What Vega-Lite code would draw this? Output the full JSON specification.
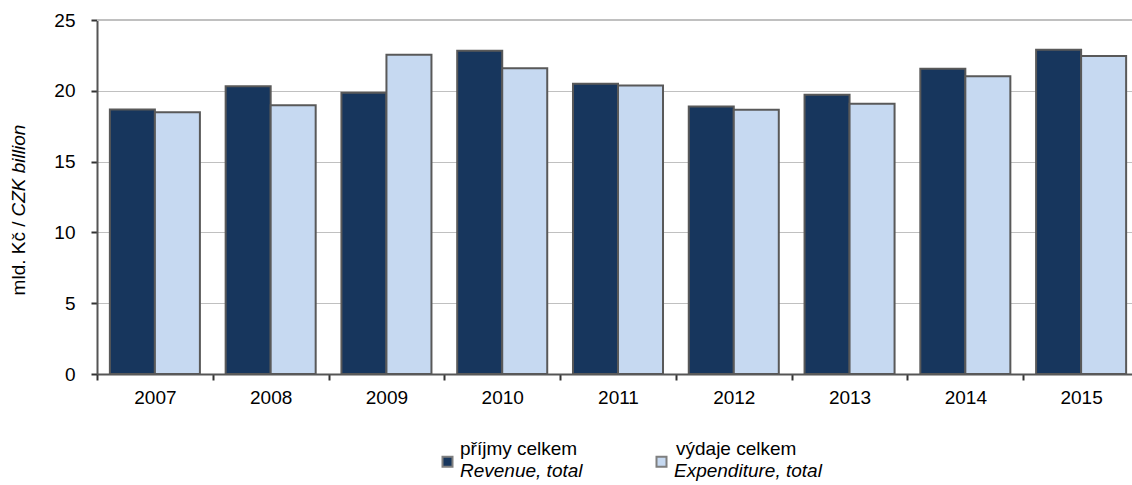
{
  "$schema": "https://vega.github.io/schema/vega-lite/v6.json",
  "width": 1035,
  "height": 354,
  "autosize": {"type": "none"},
  "padding": {"left": 97, "top": 20, "right": 0, "bottom": 111},
  "background": "white",
  "config": {
    "font": "Liberation Sans",
    "view": {"stroke": null},
    "axis": {"labelFont": "Liberation Sans", "titleFont": "Liberation Sans"},
    "legend": {"labelFont": "Liberation Sans"}
  },
  "data": {
    "values": [
      {"year": "2007", "series": "příjmy celkem", "en": "Revenue, total", "value": 18.68},
      {"year": "2007", "series": "výdaje celkem", "en": "Expenditure, total", "value": 18.49},
      {"year": "2008", "series": "příjmy celkem", "en": "Revenue, total", "value": 20.33},
      {"year": "2008", "series": "výdaje celkem", "en": "Expenditure, total", "value": 18.98},
      {"year": "2009", "series": "příjmy celkem", "en": "Revenue, total", "value": 19.86},
      {"year": "2009", "series": "výdaje celkem", "en": "Expenditure, total", "value": 22.54},
      {"year": "2010", "series": "příjmy celkem", "en": "Revenue, total", "value": 22.82},
      {"year": "2010", "series": "výdaje celkem", "en": "Expenditure, total", "value": 21.6},
      {"year": "2011", "series": "příjmy celkem", "en": "Revenue, total", "value": 20.49},
      {"year": "2011", "series": "výdaje celkem", "en": "Expenditure, total", "value": 20.37},
      {"year": "2012", "series": "příjmy celkem", "en": "Revenue, total", "value": 18.89},
      {"year": "2012", "series": "výdaje celkem", "en": "Expenditure, total", "value": 18.66},
      {"year": "2013", "series": "příjmy celkem", "en": "Revenue, total", "value": 19.72},
      {"year": "2013", "series": "výdaje celkem", "en": "Expenditure, total", "value": 19.08},
      {"year": "2014", "series": "příjmy celkem", "en": "Revenue, total", "value": 21.55},
      {"year": "2014", "series": "výdaje celkem", "en": "Expenditure, total", "value": 21.03},
      {"year": "2015", "series": "příjmy celkem", "en": "Revenue, total", "value": 22.9},
      {"year": "2015", "series": "výdaje celkem", "en": "Expenditure, total", "value": 22.45}
    ]
  },
  "layer": [
    {
      "mark": {"type": "bar", "stroke": "#595959", "strokeWidth": 2},
      "encoding": {
        "x": {
          "field": "year", "type": "nominal",
          "scale": {"paddingInner": 0, "paddingOuter": 0, "range": [0, 1042]},
          "axis": {
            "title": null, "labelAngle": 0, "tickBand": "extent",
            "labelFontSize": 19, "labelColor": "#000000", "labelPadding": 8,
            "domainColor": "#555555", "domainWidth": 2,
            "tickColor": "#333333", "tickWidth": 2, "tickSize": 6, "grid": false
          }
        },
        "xOffset": {
          "field": "series", "type": "nominal",
          "scale": {"domain": ["příjmy celkem", "výdaje celkem"], "paddingInner": 0, "paddingOuter": 0.286}
        },
        "y": {
          "field": "value", "type": "quantitative",
          "scale": {"domain": [0, 25], "nice": false},
          "axis": {
            "values": [0, 5, 10, 15, 20, 25],
            "title": "mld. Kč /", "titleFontWeight": "normal", "titleFontSize": 19, "titleColor": "#000000",
            "titleAngle": 270, "titleAlign": "right", "titleBaseline": "middle",
            "titleX": -79, "titleY": 201,
            "labelFontSize": 19, "labelColor": "#000000", "labelPadding": 16,
            "domainColor": "#555555", "domainWidth": 2,
            "tickColor": "#333333", "tickWidth": 2, "tickSize": 6,
            "gridColor": "#c0c0c0", "gridWidth": 1
          }
        },
        "fill": {
          "field": "en", "type": "nominal",
          "scale": {"domain": ["Revenue, total", "Expenditure, total"], "range": ["#17365d", "#c6d9f1"]},
          "legend": {
            "title": null, "orient": "none", "direction": "horizontal",
            "legendX": 341, "legendY": 432, "padding": 0,
            "symbolType": "square", "symbolSize": 100, "symbolStrokeColor": "#7f7f7f", "symbolStrokeWidth": 2,
            "labelFontSize": 19, "labelFontStyle": "italic", "labelColor": "#000000", "labelOffset": 3, "labelBaseline": "top",
            "columnPadding": 69, "labelLimit": 300
          }
        },
        "opacity": {
          "field": "series", "type": "nominal",
          "scale": {"domain": ["příjmy celkem", "výdaje celkem"], "range": [1, 1]},
          "legend": {
            "title": null, "orient": "none", "direction": "horizontal",
            "legendX": 341, "legendY": 419, "padding": 0,
            "symbolType": "square", "symbolSize": 100,
            "symbolFillColor": "transparent", "symbolStrokeColor": "transparent", "symbolStrokeWidth": 0,
            "labelFontSize": 19, "labelColor": "#000000", "labelOffset": 3, "labelBaseline": "middle",
            "columnPadding": 76, "labelLimit": 300,
            "encode": {"symbols": {"update": {"fill": {"value": "transparent"}, "stroke": {"value": "transparent"}}}}
          }
        }
      }
    },
    {
      "mark": {"type": "rule", "color": "#c0c0c0", "strokeWidth": 2},
      "encoding": {
        "y": {
          "datum": 25, "type": "quantitative",
          "axis": {
            "orient": "left", "title": "CZK billion", "titleFontStyle": "italic", "titleFontWeight": "normal",
            "titleFontSize": 19, "titleColor": "#000000",
            "titleAngle": 270, "titleAlign": "left", "titleBaseline": "middle",
            "titleX": -79, "titleY": 196,
            "labels": false, "ticks": false, "domain": false, "grid": false
          }
        }
      }
    }
  ],
  "resolve": {"axis": {"y": "independent"}}
}
